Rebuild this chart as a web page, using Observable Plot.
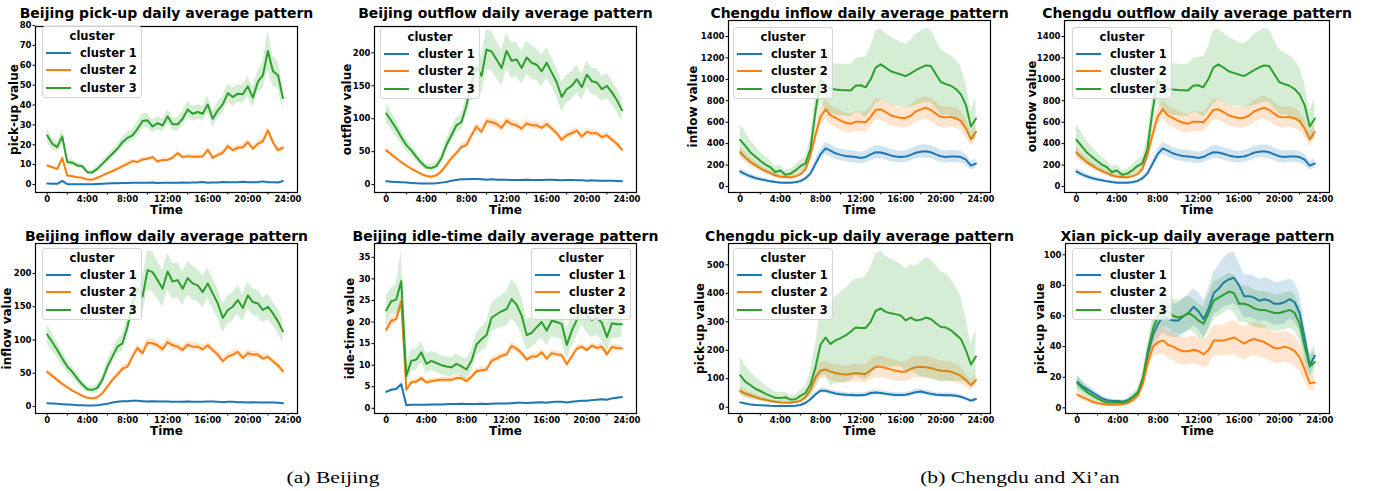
<!DOCTYPE html>
<html><head><meta charset="utf-8">
<script src="https://cdn.jsdelivr.net/npm/d3@7"></script>
<script src="https://cdn.jsdelivr.net/npm/@observablehq/plot@0.6"></script>
<style>
body{margin:0;background:#fff}
#root{position:relative;width:1377px;height:491px;overflow:hidden;background:#fff}
.leg{position:absolute;width:100px;height:72px;box-sizing:border-box;border:1px solid #d4d4d4;border-radius:3px;background:rgba(255,255,255,0.8);font:bold 11.5px "DejaVu Sans";color:#000}
.leg .lt{position:absolute;left:0;right:0;top:2px;text-align:center;line-height:14px}
.leg .row{position:absolute;left:0;height:14px;line-height:14px}
.leg .sw{position:absolute;left:3px;top:6px;width:25px;height:2px}
.leg .tx{position:absolute;left:37px;top:0;white-space:nowrap}
.cap{position:absolute;top:469px;font:17px "Liberation Serif";line-height:18px;white-space:nowrap;transform:translateX(-50%) scaleX(1.27);color:#000}
</style></head>
<body><div id="root"></div>
<script>
// ---------- categories / labels ----------
const hours = d3.range(0, 24, 0.5);
const clusters = ["cluster 1", "cluster 2", "cluster 3"];
const palette = ["#1f77b4", "#ff7f0e", "#2ca02c"];
const xTicks = [0, 2, 4, 6, 8, 10, 12, 14, 16, 18, 20, 22, 24];
const xTickText = {0: "0", 4: "4:00", 8: "8:00", 12: "12:00", 16: "16:00", 20: "20:00", 24: "24:00"};
const captions = ["(a) Beijing", "(b) Chengdu and Xi\u2019an"];

// ---------- Beijing pick-up ----------
const bjPick1 = [0.5,0.4,0.4,1.8,0.2,0.2,0.2,0.2, 0.2,0.2,0.3,0.4,0.5,0.6,0.7,0.8, 0.8,0.9,0.9,0.9,0.9,1.0,0.8,0.9, 0.9,0.9,0.9,1.0,0.9,1.0,1.0,1.3, 0.9,1.0,1.0,1.3,1.1,1.2,1.2,1.4, 1.1,1.2,1.2,1.6,1.2,1.1,1.0,1.8];
const bjPick2 = [9.6,8.7,7.9,13.3,4.5,4.2,3.7,3.4, 2.5,2.4,3.4,4.5,5.7,6.7,7.9,9.2, 10.4,11.8,11.3,12.6,13,13.8,11.6,12.4, 12.4,13.5,15.8,13.8,14.3,14,14,14.1, 17.5,13.5,14.8,16,19.3,17.3,18.5,18.8, 21.3,18,20.5,21.8,27.2,21.3,17.3,18.5];
const bjPick3 = [24.7,20.5,18.8,24.2,11.3,11,9.6,9.2, 6.2,6.1,7.9,10.4,13,15.5,18,21.3, 23.5,24.7,28,32,32.3,29.2,30.9,29.7, 34.3,30.3,30.3,33.1,37.8,35.6,36.5,35.6, 40.3,33.1,37.3,40.3,46,44,45.7,45.4, 49.4,43.7,51.6,55,67.2,57,55,43.5];
const bjPickCI1 = [0.2,0.2,0.2,0.3,0.1,0.1,0.1,0.1, 0.1,0.1,0.1,0.1,0.1,0.15,0.15,0.15, 0.15,0.15,0.15,0.15,0.15,0.15,0.15,0.15, 0.15,0.15,0.15,0.15,0.15,0.15,0.15,0.2, 0.15,0.15,0.15,0.2,0.15,0.2,0.2,0.2, 0.2,0.2,0.2,0.2,0.2,0.2,0.2,0.25];
const bjPickCI2 = [0.8,0.7,0.7,1.2,0.5,0.5,0.4,0.4, 0.3,0.3,0.4,0.5,0.6,0.7,0.8,0.8, 0.9,0.9,0.9,1,1,1,1,1, 1,1,1.1,1.1,1.1,1.1,1.1,1.1, 1.3,1.1,1.1,1.2,1.3,1.3,1.3,1.3, 1.4,1.4,1.5,1.5,2,1.5,1.5,1.4];
const bjPickCI3 = [3.5,3,2.5,3.5,1.5,1.5,1.3,1.3, 1,1,1.2,1.5,1.8,2,2.3,2.5, 2.8,3,3.3,3.5,3.5,3.3,3.3,3.3, 3.5,3.3,3.3,3.5,3.8,3.8,3.8,3.8, 4.2,4,4,4.2,4.5,4.5,4.5,4.5, 5,5,5.5,6.5,10,7.5,7,6];

// ---------- Beijing outflow ----------
const bjOut1 = [5,4.5,4,3.5,3,2.5,2,1.8, 1.5,1.5,2,3,4,6,7,8, 8,8.5,8.5,8,7.5,8,7.5,7.5, 7.5,7,7,7,7.5,7,7,7, 7.5,7.5,7,6.5,7,7,6.5,6.5, 6,6.5,6,6,6,6,5.5,5];
const bjOut2 = [52,46,40,34,29,24,20,16, 13,12,14,20,30,40,48,57, 60,75,88,80,96,95,92,86, 97,92,90,85,93,90,90,86, 92,85,78,68,75,78,82,73, 80,78,78,72,75,68,62,53];
const bjOut3 = [108,97,85,72,60,52,42,33, 26,25,28,40,60,75,90,95, 120,155,178,165,205,202,190,177, 203,188,190,177,193,185,182,172, 185,170,155,133,145,150,160,148, 167,157,155,145,150,140,128,113];
const bjOutCI1 = [0.6,0.5,0.5,0.4,0.4,0.3,0.3,0.3, 0.3,0.3,0.3,0.4,0.5,0.6,0.7,0.7, 0.7,0.8,0.8,0.7,0.7,0.7,0.7,0.7, 0.7,0.7,0.7,0.7,0.7,0.7,0.7,0.7, 0.7,0.7,0.7,0.6,0.6,0.6,0.6,0.6, 0.6,0.6,0.6,0.6,0.6,0.6,0.5,0.5];
const bjOutCI2 = [4,3.5,3,3,2.5,2.5,2,2, 1.5,1.5,2,2,3,3.5,4,4.5, 5,5,5.5,6,6,6,6,6, 6,6,6,5.5,5.5,5.5,5.5,5.5, 5.5,5,5,5,5,5,5,5, 5,5,4.5,4.5,4.5,4.5,4.5,4];
const bjOutCI3 = [15,13,12,10,9,8,7,6, 5,5,6,7,9,10,11,12, 15,20,25,28,30,30,28,27, 28,27,26,25,25,25,24,24, 23,22,22,22,21,21,21,20, 20,20,20,19,19,18,18,17];

// ---------- Beijing inflow ----------
const bjIn1 = [5,4.5,4,3.5,3,2.5,2,1.8, 1.5,1.5,2,3,4,6,7,8, 8,8.5,8.5,8,7.5,8,7.5,7.5, 7.5,7,7,7,7.5,7,7,7, 7.5,7.5,7,6.5,7,7,6.5,6.5, 6,6.5,6,6,6,6,5.5,5];
const bjIn2 = [52,46,40,34,29,24,20,16, 13,12,14,20,30,40,48,57, 60,75,88,80,96,95,92,86, 97,92,90,85,93,90,90,86, 92,85,78,68,75,78,82,73, 80,78,78,72,75,68,62,53];
const bjIn3 = [108,97,85,72,60,52,42,33, 26,25,28,40,60,75,90,95, 120,155,178,165,205,202,190,177, 203,188,190,177,193,185,182,172, 185,170,155,133,145,150,160,148, 167,157,155,145,150,140,128,113];
const bjInCI1 = [0.6,0.5,0.5,0.4,0.4,0.3,0.3,0.3, 0.3,0.3,0.3,0.4,0.5,0.6,0.7,0.7, 0.7,0.8,0.8,0.7,0.7,0.7,0.7,0.7, 0.7,0.7,0.7,0.7,0.7,0.7,0.7,0.7, 0.7,0.7,0.7,0.6,0.6,0.6,0.6,0.6, 0.6,0.6,0.6,0.6,0.6,0.6,0.5,0.5];
const bjInCI2 = [4,3.5,3,3,2.5,2.5,2,2, 1.5,1.5,2,2,3,3.5,4,4.5, 5,5,5.5,6,6,6,6,6, 6,6,6,5.5,5.5,5.5,5.5,5.5, 5.5,5,5,5,5,5,5,5, 5,5,4.5,4.5,4.5,4.5,4.5,4];
const bjInCI3 = [15,13,12,10,9,8,7,6, 5,5,6,7,9,10,11,12, 15,20,25,28,30,30,28,27, 28,27,26,25,25,25,24,24, 23,22,22,22,21,21,21,20, 20,20,20,19,19,18,18,17];

// ---------- Beijing idle-time ----------
const bjIdle1 = [3.8,4.3,4.5,5.6,0.7,0.8,0.8,0.85, 0.85,0.9,0.9,0.9,0.95,1,1,1.05, 1,1,1,1.05,1,1.05,1.1,1.1, 1.1,1.2,1.3,1.3,1.25,1.3,1.35,1.4, 1.3,1.45,1.5,1.5,1.35,1.5,1.65,1.75, 1.75,1.9,2,2.1,2,2.3,2.45,2.6];
const bjIdle2 = [18.2,20.3,20.7,24.8,4.3,6,6.2,7, 6,6.3,6.5,6.6,6.6,6.6,7,7, 6.3,7.3,8.6,8.8,9,11,11.5,12.2, 12.5,14.5,13.8,12.8,11.3,12,12,13, 11.5,12.8,12.5,12.3,10.2,12,13.8,14.3, 13.5,14.5,14,14.3,12.5,14.2,14,13.9];
const bjIdle3 = [22.7,24.8,25.2,29.5,7.5,11,11.3,13, 10.3,11,10.5,10,9.7,9.5,10.3,9.7, 9,11,14.8,16,17,21,21.8,22.5, 23,25.3,24,21.5,17,17.5,18.8,20, 18,20.3,20,19.5,14.7,18,20.5,23.5, 21.5,20.5,21,19.8,16.5,19.7,19.5,19.5];
const bjIdleCI1 = [0.3,0.3,0.3,0.4,0.1,0.1,0.1,0.1, 0.1,0.1,0.1,0.1,0.1,0.1,0.1,0.1, 0.1,0.1,0.1,0.1,0.1,0.1,0.1,0.1, 0.1,0.1,0.1,0.1,0.1,0.1,0.1,0.1, 0.1,0.1,0.1,0.1,0.1,0.1,0.1,0.1, 0.1,0.1,0.1,0.1,0.1,0.1,0.15,0.15];
const bjIdleCI2 = [1.2,1,1,1.3,0.6,0.6,0.6,0.6, 0.6,0.6,0.6,0.6,0.6,0.6,0.6,0.6, 0.6,0.6,0.7,0.7,0.7,0.7,0.7,0.8, 0.8,0.8,0.8,0.8,0.7,0.7,0.7,0.7, 0.7,0.7,0.7,0.7,0.7,0.7,0.7,0.7, 0.7,0.7,0.7,0.7,0.7,0.7,0.7,0.7];
const bjIdleCI3 = [3.5,3,3.5,7,2.5,2.5,2.5,2.5, 2.3,2.2,2.2,2.2,2.2,2.2,2.3,2.3, 2.3,2.4,2.6,2.8,3,3.3,3.5,3.7, 4,4.5,4.5,4.3,3.5,3.5,3.5,3.7, 3.5,3.7,3.7,3.7,3.5,3.7,3.8,4, 4,4,4,4,3.5,3.5,3.3,3];

// ---------- Chengdu inflow ----------
const cdIn1 = [140,115,95,80,68,58,48,41, 36,35,35,40,50,75,120,210, 300,355,335,310,295,285,280,275, 265,275,300,320,318,305,290,280, 275,280,295,315,325,328,320,300, 282,275,280,280,275,250,195,215];
const cdIn2 = [320,270,230,200,170,145,125,105, 90,88,85,95,115,160,290,480, 650,720,665,640,615,595,585,605, 605,600,650,715,720,695,665,650, 640,640,660,700,720,735,715,680, 650,645,650,635,610,540,440,510];
const cdIn3 = [435,380,320,280,240,205,180,135, 150,110,120,150,190,215,350,700, 1000,930,915,905,900,898,895,940, 945,925,1000,1110,1140,1110,1075,1060, 1045,1030,1055,1085,1110,1130,1125,1050, 975,955,940,910,860,760,560,635];
const cdInCI1 = [30,27,24,21,18,16,14,12, 11,11,11,12,14,18,25,35, 45,55,55,55,55,55,55,55, 55,55,58,60,60,58,57,56, 55,55,56,58,60,62,62,60, 58,57,57,56,55,50,40,45];
const cdInCI2 = [50,45,40,35,30,28,25,22, 20,20,20,20,22,28,45,65, 80,90,90,90,90,90,90,92, 92,92,95,100,100,98,96,95, 95,95,98,100,105,108,108,105, 100,98,95,92,90,80,65,75];
const cdInCI3 = [145,130,110,95,80,70,60,50, 50,40,40,45,55,60,100,150, 200,220,230,240,240,240,245,250, 260,280,300,340,330,320,320,310, 300,300,310,330,340,345,340,320, 300,290,280,270,250,200,140,190];

// ---------- Chengdu outflow ----------
const cdOut1 = [140,115,95,80,68,58,48,41, 36,35,35,40,50,75,120,210, 300,355,335,310,295,285,280,275, 265,275,300,320,318,305,290,280, 275,280,295,315,325,328,320,300, 282,275,280,280,275,250,195,215];
const cdOut2 = [320,270,230,200,170,145,125,105, 90,88,85,95,115,160,290,480, 650,720,665,640,615,595,585,605, 605,600,650,715,720,695,665,650, 640,640,660,700,720,735,715,680, 650,645,650,635,610,540,440,510];
const cdOut3 = [435,380,320,280,240,205,180,135, 150,110,120,150,190,215,350,700, 1000,930,915,905,900,898,895,940, 945,925,1000,1110,1140,1110,1075,1060, 1045,1030,1055,1085,1110,1130,1125,1050, 975,955,940,910,860,760,560,635];
const cdOutCI1 = [30,27,24,21,18,16,14,12, 11,11,11,12,14,18,25,35, 45,55,55,55,55,55,55,55, 55,55,58,60,60,58,57,56, 55,55,56,58,60,62,62,60, 58,57,57,56,55,50,40,45];
const cdOutCI2 = [50,45,40,35,30,28,25,22, 20,20,20,20,22,28,45,65, 80,90,90,90,90,90,90,92, 92,92,95,100,100,98,96,95, 95,95,98,100,105,108,108,105, 100,98,95,92,90,80,65,75];
const cdOutCI3 = [145,130,110,95,80,70,60,50, 50,40,40,45,55,60,100,150, 200,220,230,240,240,240,245,250, 260,280,300,340,330,320,320,310, 300,300,310,330,340,345,340,320, 300,290,280,270,250,200,140,190];

// ---------- Chengdu pick-up ----------
const cdPick1 = [17,13,10,8,7,6,5,4.5, 4,4,4,5,8,15,28,45, 58,58,53,48,46,44,43,42, 42,44,50,52,50,47,45,43, 43,44,48,53,55,51,47,44, 43,42,42,40,37,30,23,29];
const cdPick2 = [57,48,42,36,30,26,22,19, 17,16,16,18,22,35,60,105, 128,133,125,120,117,115,117,120, 118,117,130,142,142,138,133,128, 125,125,135,140,142,140,138,132, 128,127,125,118,110,95,77,95];
const cdPick3 = [112,90,78,65,57,48,40,33, 32,35,27,28,40,50,80,140, 220,245,222,235,243,252,265,280, 278,278,300,338,347,335,330,327, 322,305,315,305,307,315,310,295, 282,280,270,255,240,200,150,178];
const cdPickCI1 = [4,3.5,3,2.5,2,2,1.5,1.5, 1.5,1.5,1.5,1.5,2,3,5,7, 9,9,9,9,8,8,8,8, 8,8,8,9,9,8,8,8, 8,8,8,9,9,9,8,8, 8,8,8,8,7,6,5,6];
const cdPickCI2 = [15,13,11,10,8,7,6,5, 5,5,5,5,6,9,15,25, 30,30,30,30,30,30,30,30, 30,32,35,38,38,37,36,35, 35,35,37,38,38,38,37,36, 35,34,33,32,30,25,18,22];
const cdPickCI3 = [66,55,48,40,35,28,24,20, 20,18,15,16,20,25,45,80, 110,130,150,150,160,165,170,170, 175,180,190,200,200,195,190,185, 180,180,185,190,200,210,210,200, 195,190,180,165,150,110,70,95];

// ---------- Xian pick-up ----------
const xaPick1 = [17,14,12,10,8,6,5,4.5, 4.5,4,5,7,10,18,35,48, 55,60,58,57,57,60,62,66, 63,58,65,75,78,82,84,85, 80,73,73,72,70,71,70,68, 68,69,71,69,62,45,28,34];
const xaPick2 = [8.5,7,5.5,4,3,2.5,2,2, 2,2.5,3,5,8,16,30,40, 43,44,41,40,38,37,37,38, 37,35,38,44,44,44,45,46, 44,42,44,45,44,43,41,39, 39,40,39,37,33,25,16,16.5];
const xaPick3 = [16,13,10,8,6,4.5,3.5,3.5, 3.5,3.5,4.5,7,10,20,38,52, 60,64,63,60,59,60,62,60, 57,55,62,70,72,74,76,75, 68,68,67,65,64,64,63,62, 62,63,64,62,55,40,27,30];
const xaPickCI1 = [4,3.5,3,2.5,2,1.5,1.2,1, 1,1,1,1.5,2,3,5,8, 10,11,11,11,11,12,12,12, 12,12,13,14,15,16,17,17, 15,14,14,14,14,14,14,14, 14,14,13,13,12,10,7,7];
const xaPickCI2 = [2.5,2,1.8,1.5,1.2,1,1,1, 1,1,1.2,1.5,2,3,5,7, 8,9,9,9,9,9,9,9, 9,9,10,10,10,10,11,11, 11,11,11,11,11,11,10,10, 10,10,10,10,9,8,5,5];
const xaPickCI3 = [5,4,3.5,3,2.5,2,1.5,1.5, 1.5,1.5,1.5,2,2.5,4,6,8, 10,11,11,11,11,11,11,11, 11,11,12,12,12,12,12,12, 12,12,12,12,12,12,12,12, 12,12,12,12,11,10,7,7];

// ---------- panel layout ----------
const panels = [
  {title: "Beijing pick-up daily average pattern", ylabel: "pick-up value", means: [bjPick1, bjPick2, bjPick3], cis: [bjPickCI1, bjPickCI2, bjPickCI3],
   yDomain: [-4, 79.5], yTicks: [0,10,20,30,40,50,60,70,80], L: 35, R: 297, T: 26, B: 192, rowTop: 0, ml: 35, ylabOff: 21.7, titleDy: -8.5, legend: [42, 26]},
  {title: "Beijing outflow daily average pattern", ylabel: "outflow value", means: [bjOut1, bjOut2, bjOut3], cis: [bjOutCI1, bjOutCI2, bjOutCI3],
   yDomain: [-12, 240], yTicks: [0,50,100,150,200], L: 374, R: 636, T: 26, B: 192, rowTop: 0, ml: 45, ylabOff: 27, titleDy: -8.5, legend: [380, 27]},
  {title: "Chengdu inflow daily average pattern", ylabel: "inflow value", means: [cdIn1, cdIn2, cdIn3], cis: [cdInCI1, cdInCI2, cdInCI3],
   yDomain: [-56, 1549], yTicks: [0,200,400,600,800,1000,1200,1400], L: 728, R: 990, T: 20, B: 192, rowTop: 0, ml: 45, ylabOff: 35, titleDy: -2.8, legend: [733, 27]},
  {title: "Chengdu outflow daily average pattern", ylabel: "outflow value", means: [cdOut1, cdOut2, cdOut3], cis: [cdOutCI1, cdOutCI2, cdOutCI3],
   yDomain: [-56, 1549], yTicks: [0,200,400,600,800,1000,1200,1400], L: 1064, R: 1329, T: 20, B: 192, rowTop: 0, ml: 45, ylabOff: 32, titleDy: -2.8, legend: [1072, 27]},
  {title: "Beijing inflow daily average pattern", ylabel: "inflow value", means: [bjIn1, bjIn2, bjIn3], cis: [bjInCI1, bjInCI2, bjInCI3],
   yDomain: [-10.5, 245], yTicks: [0,50,100,150,200], L: 35, R: 297, T: 243, B: 413, rowTop: 220, ml: 35, ylabOff: 28.3, titleDy: -3, legend: [42, 248]},
  {title: "Beijing idle-time daily average pattern", ylabel: "idle-time value", means: [bjIdle1, bjIdle2, bjIdle3], cis: [bjIdleCI1, bjIdleCI2, bjIdleCI3],
   yDomain: [-1.2, 38.2], yTicks: [0,5,10,15,20,25,30,35], L: 374, R: 636, T: 243, B: 413, rowTop: 220, ml: 45, ylabOff: 24, titleDy: -3, legend: [531, 248]},
  {title: "Chengdu pick-up daily average pattern", ylabel: "pick-up value", means: [cdPick1, cdPick2, cdPick3], cis: [cdPickCI1, cdPickCI2, cdPickCI3],
   yDomain: [-22, 575], yTicks: [0,100,200,300,400,500], L: 728, R: 990, T: 243, B: 413, rowTop: 220, ml: 45, ylabOff: 28, titleDy: -3, legend: [733, 248]},
  {title: "Xian pick-up daily average pattern", ylabel: "pick-up value", means: [xaPick1, xaPick2, xaPick3], cis: [xaPickCI1, xaPickCI2, xaPickCI3],
   yDomain: [-3.7, 107.4], yTicks: [0,20,40,60,80,100], L: 1065, R: 1329, T: 243, B: 413, rowTop: 220, ml: 45, ylabOff: 25, titleDy: -3, legend: [1072, 248]}
];

const root = document.getElementById("root");
for (const p of panels) {
  const rows = [];
  p.means.forEach((arr, i) => arr.forEach((v, k) => rows.push({t: hours[k], v, lo: v - p.cis[i][k], hi: v + p.cis[i][k], c: clusters[i]})));
  const MT = p.T - p.rowTop, MB = 34, MR = 12;
  const W = p.ml + (p.R - p.L) + MR, H = MT + (p.B - p.T) + MB;
  const marks = [];
  for (const c of clusters) {
    const d = rows.filter(r => r.c === c);
    marks.push(Plot.lineY(d, {x: "t", y: "v", stroke: "c", strokeWidth: 2}));
    marks.push(Plot.areaY(d, {x: "t", y1: "lo", y2: "hi", fill: "c", fillOpacity: 0.2}));
  }
  marks.push(Plot.frame({stroke: "#000", strokeWidth: 1.2}));
  marks.push(Plot.axisX({ticks: xTicks, tickSize: 2.5, tickPadding: 1, tickFormat: d => xTickText[d] ?? "", label: null}));
  marks.push(Plot.axisY({ticks: p.yTicks, tickSize: 2.5, tickPadding: 1.5, tickFormat: d => String(d), label: null}));
  marks.push(Plot.text([p.title], {text: d => d, frameAnchor: "top", dy: p.titleDy, lineAnchor: "bottom", textAnchor: "middle", fontSize: 14, fontWeight: "bold"}));
  marks.push(Plot.text(["Time"], {text: d => d, frameAnchor: "bottom", dy: 21, lineAnchor: "bottom", textAnchor: "middle", fontSize: 12, fontWeight: "bold"}));
  marks.push(Plot.text([p.ylabel], {text: d => d, frameAnchor: "left", dx: -p.ylabOff, rotate: -90, lineAnchor: "middle", textAnchor: "middle", fontSize: 12, fontWeight: "bold"}));
  const svg = Plot.plot({
    width: W, height: H, marginLeft: p.ml, marginRight: MR, marginTop: MT, marginBottom: MB,
    x: {domain: [-1.17, 24.95]}, y: {domain: p.yDomain},
    color: {domain: clusters, range: palette},
    style: {fontFamily: "DejaVu Sans", fontSize: "8.5px", fontWeight: "bold", background: "transparent", overflow: "visible", color: "#000"},
    marks
  });
  svg.style.position = "absolute";
  svg.style.left = (p.L - p.ml) + "px";
  svg.style.top = p.rowTop + "px";
  root.appendChild(svg);

  const lg = document.createElement("div");
  lg.className = "leg";
  lg.style.left = p.legend[0] + "px";
  lg.style.top = p.legend[1] + "px";
  lg.innerHTML = `<div class="lt">cluster</div>` + clusters.map((c, i) =>
    `<div class="row" style="top:${19 + i * 17.3}px"><div class="sw" style="background:${palette[i]}"></div><div class="tx">${c}</div></div>`).join("");
  root.appendChild(lg);
}

const capX = [332.5, 1019.5];
captions.forEach((t, i) => {
  const d = document.createElement("div");
  d.className = "cap";
  d.style.left = capX[i] + "px";
  d.textContent = t;
  root.appendChild(d);
});
</script>
</body></html>
